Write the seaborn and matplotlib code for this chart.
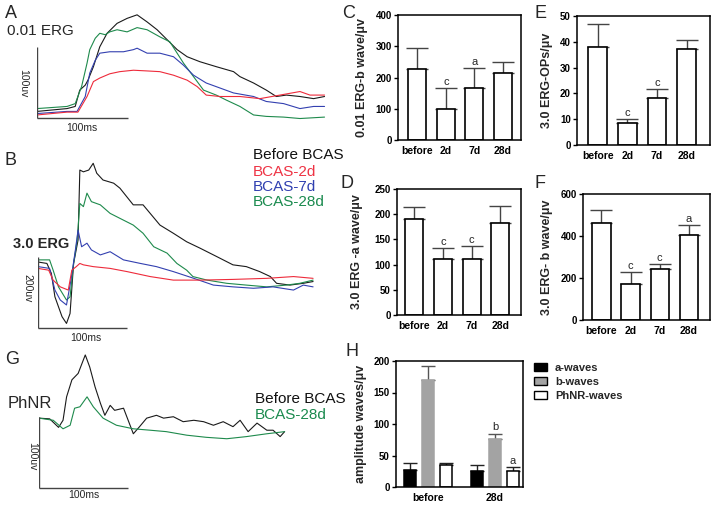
import numpy as np
import pandas as pd
import matplotlib
matplotlib.use("Agg")
import matplotlib.pyplot as plt
import seaborn as sns
from matplotlib.patches import Patch

# ---------------- data ----------------
# Panel A (0.01 ERG) traces: time (ms), amplitude (uV)
A_t_before = [0, 33, 42, 47, 53, 56, 62, 69, 77, 88, 99, 110, 121, 132, 143, 154, 165, 179, 197, 216, 223, 238, 252, 263, 274, 289, 304, 316]
A_v_before = [-2, 2, 5, 28, 35, 42, 61, 89, 108, 122, 129, 134, 124, 113, 99, 85, 75, 68, 61, 54, 47, 38, 28, 19, 21, 19, 16, 19]
A_t_28d = [0, 33, 42, 49, 55, 58, 64, 69, 75, 80, 88, 99, 110, 121, 135, 146, 154, 161, 172, 183, 197, 208, 223, 238, 252, 271, 289, 316]
A_v_28d = [2, 5, 9, 33, 66, 85, 101, 108, 106, 110, 113, 110, 116, 113, 103, 96, 80, 66, 47, 28, 21, 14, 5, -7, -9, -10, -12, -10]
A_t_7d = [0, 33, 44, 53, 58, 64, 69, 80, 95, 106, 110, 121, 135, 150, 161, 172, 186, 201, 216, 238, 252, 271, 289, 304, 316]
A_v_7d = [-5, -2, -2, 19, 52, 70, 80, 82, 82, 85, 87, 80, 80, 75, 63, 49, 38, 31, 24, 19, 12, 9, 2, 5, 5]
A_t_2d = [0, 33, 45, 55, 62, 69, 80, 91, 106, 121, 135, 150, 165, 176, 186, 201, 223, 245, 267, 289, 300, 316]
A_v_2d = [-7, -3, -3, 19, 40, 45, 51, 54, 56, 55, 54, 49, 42, 33, 21, 19, 19, 16, 21, 26, 21, 21]

# Panel B (3.0 ERG) traces
B_t_before = [0, 10, 15, 19, 27, 32, 36, 40, 45, 47, 51, 57, 62, 66, 73, 85, 92, 107, 118, 126, 137, 152, 167, 182, 201, 219, 234, 249, 261, 268, 283, 298, 309]
B_v_before = [0, -4, -32, -98, -154, -173, -145, -4, 62, 259, 254, 259, 278, 250, 231, 222, 208, 161, 161, 137, 104, 81, 57, 39, 15, -8, -13, -27, -41, -60, -65, -60, -55]
B_t_28d = [0, 13, 17, 23, 32, 36, 40, 44, 47, 51, 55, 60, 70, 81, 92, 107, 118, 130, 145, 156, 167, 174, 190, 212, 234, 257, 279, 294, 309]
B_v_28d = [6, 6, -23, -70, -107, -98, -4, 62, 165, 156, 194, 170, 161, 137, 123, 104, 81, 43, 25, -4, -23, -41, -51, -60, -65, -70, -65, -60, -51]
B_t_7d = [0, 13, 19, 25, 32, 37, 42, 45, 49, 55, 60, 70, 81, 96, 115, 133, 152, 175, 197, 219, 242, 264, 287, 298, 309]
B_v_7d = [-13, -18, -79, -107, -121, -51, 34, 90, 43, 53, 34, 20, 29, 6, -4, -13, -27, -46, -65, -70, -74, -70, -79, -65, -70]
B_t_2d = [0, 12, 17, 25, 34, 38, 43, 47, 51, 62, 81, 100, 126, 152, 182, 219, 257, 287, 309]
B_v_2d = [-18, -23, -51, -70, -79, -23, -13, -4, -8, -13, -18, -27, -41, -51, -51, -49, -46, -41, -46]

# Panel G (PhNR) traces
G_t_before = [0, 12, 22, 27, 31, 37, 44, 52, 57, 63, 69, 74, 80, 85, 95, 106, 113, 121, 132, 140, 151, 162, 174, 185, 196, 207, 218, 226, 235, 245, 256, 263, 271, 276]
G_v_before = [0, -1, -13, -3, 30, 54, 63, 89, 72, 44, 21, 4, 18, 11, 14, -22, -12, 0, 4, 0, 2, -5, -3, -5, -10, -5, -12, -3, -19, -7, -17, -17, -26, -19]
G_t_28d = [0, 16, 27, 35, 40, 46, 54, 61, 72, 87, 106, 125, 143, 166, 188, 211, 233, 256, 276]
G_v_28d = [0, -3, -15, -10, 14, 16, 30, 16, 0, -10, -15, -17, -19, -24, -27, -29, -26, -22, -19]

# Bar panels
groups = ["before", "2d", "7d", "28d"]
C_mean = [227, 99, 167, 213]
C_sd = [68, 68, 62, 38]
C_sig = ["", "c", "a", ""]
D_mean = [190, 111, 111, 182]
D_sd = [24, 22, 25, 35]
D_sig = ["", "c", "c", ""]
E_mean = [37.9, 8.4, 18.3, 37.2]
E_sd = [9.0, 1.7, 3.3, 3.5]
E_sig = ["", "c", "c", ""]
F_mean = [463, 170, 241, 405]
F_sd = [61, 57, 24, 47]
F_sig = ["", "c", "c", "a"]

H_groups = ["before", "28d"]
H_types = ["a-waves", "b-waves", "PhNR-waves"]
H_a = [27.6, 24.9]
H_a_sd = [10.6, 10.6]
H_b = [169.8, 75.9]
H_b_sd = [22.8, 9.0]
H_phnr = [34.5, 25.5]
H_phnr_sd = [3.7, 6.3]
H_sig = {"a-waves": ["", ""], "b-waves": ["", "b"], "PhNR-waves": ["", "a"]}

# ---------------- style ----------------
sns.set_theme(style="ticks")
plt.rcParams["font.family"] = ["Liberation Sans", "DejaVu Sans"]
plt.rcParams["axes.linewidth"] = 1.1

W, H = 712, 505
fig = plt.figure(figsize=(W / 100, H / 100), dpi=100)


def add_ax(l, t, r, b):
    return fig.add_axes([l / W, 1 - b / H, (r - l) / W, (b - t) / H])


def ftext(x, y, s, **kw):
    kw.setdefault("ha", "center")
    kw.setdefault("va", "center")
    fig.text(x / W, 1 - y / H, s, **kw)


COL = {"before": "#1a1a1a", "2d": "#ee2b3b", "7d": "#3340b0", "28d": "#1e8a4c"}
TXT = {"before": "#111111", "2d": "#ee3344", "7d": "#2f3fb0", "28d": "#1a8a4e"}


def trace_panel(rect, traces, xlim, ylim, bar_y, bar_uv):
    ax = add_ax(*rect)
    for t, v, key in traces:
        sns.lineplot(x=t, y=v, ax=ax, color=COL[key], lw=0.8, estimator=None, sort=False)
    ax.set_xlim(*xlim)
    ax.set_ylim(*ylim)
    ax.axis("off")
    ax.plot([0, 0], [bar_y, bar_y + bar_uv], color="#444444", lw=1.0, solid_capstyle="butt")
    ax.plot([0, 100], [bar_y, bar_y], color="#444444", lw=1.0, solid_capstyle="butt")
    return ax


trace_panel((37, 10, 330, 122),
            [(A_t_before, A_v_before, "before"), (A_t_28d, A_v_28d, "28d"),
             (A_t_7d, A_v_7d, "7d"), (A_t_2d, A_v_2d, "2d")],
            (0, 322), (-16.9, 140.8), -11.3, 100)
trace_panel((38, 130, 330, 330),
            [(B_t_before, B_v_before, "before"), (B_t_28d, B_v_28d, "28d"),
             (B_t_7d, B_v_7d, "7d"), (B_t_2d, B_v_2d, "2d")],
            (0, 328), (-191.5, 371.8), -186, 200)
trace_panel((39, 345, 330, 492),
            [(G_t_before, G_v_before, "before"), (G_t_28d, G_v_28d, "28d")],
            (0, 327), (-104, 103), -98.6, 100)

# trace panel texts
ftext(11, 14, "A", fontsize=13)
ftext(7, 31, "0.01 ERG", fontsize=11, ha="left")
ftext(23, 83, "100uv", fontsize=7.5, rotation=270)
ftext(82, 128, "100ms", fontsize=7.5)
ftext(11, 160, "B", fontsize=13)
ftext(13, 244, "3.0 ERG", fontsize=10.5, ha="left", fontweight="bold")
ftext(27, 288, "200uv", fontsize=7.5, rotation=270)
ftext(86, 338, "100ms", fontsize=7.5)
for y, s, k in [(155, "Before BCAS", "before"), (171.5, "BCAS-2d", "2d"),
                (187, "BCAS-7d", "7d"), (202.5, "BCAS-28d", "28d")]:
    ftext(253, y, s, fontsize=11, ha="left", color=TXT[k])
ftext(12, 360, "G", fontsize=13)
ftext(8, 403, "PhNR", fontsize=12, ha="left")
ftext(32, 456, "100uv", fontsize=7.5, rotation=270)
ftext(84, 495, "100ms", fontsize=7.5)
ftext(255, 399, "Before BCAS", fontsize=11, ha="left", color=TXT["before"])
ftext(255, 415, "BCAS-28d", fontsize=11, ha="left", color=TXT["28d"])


def style_bar_axes(ax, ymax, ystep, xlim, ylabel, label_x_px, rect):
    ax.set_xlim(*xlim)
    ax.set_ylim(0, ymax)
    ax.set_yticks(np.arange(0, ymax + 0.1, ystep))
    ax.set_xlabel("")
    ax.set_ylabel(ylabel, fontsize=9, fontweight="bold")
    ax.yaxis.set_label_coords((label_x_px - rect[0]) / (rect[2] - rect[0]), 0.5)
    ax.tick_params(axis="y", length=3, width=1, labelsize=7, pad=1.5, colors="black")
    ax.tick_params(axis="x", length=0, labelsize=7.5, pad=4, colors="black")
    for lab in ax.get_yticklabels() + ax.get_xticklabels():
        lab.set_fontweight("bold")
    for sp in ax.spines.values():
        sp.set_visible(True)
        sp.set_color("black")
        sp.set_linewidth(1.1)


def bar_panel(rect, mean, sd, sig, ymax, ystep, xlim, ylabel, label_x_px):
    ax = add_ax(*rect)
    df = pd.DataFrame({"group": groups, "value": mean})
    sns.barplot(data=df, x="group", y="value", ax=ax, color="white", saturation=1,
                edgecolor="black", linewidth=1.2, width=0.63, errorbar=None)
    for p, s, lab in zip(ax.patches, sd, sig):
        xc = p.get_x() + p.get_width() / 2
        h = p.get_height()
        ax.errorbar([xc], [h], yerr=[[0], [s]], fmt="none", ecolor="#444444",
                    elinewidth=1.0, capsize=8, capthick=1.0, zorder=0.5)
        if lab:
            ax.text(xc, h + s + ymax * 0.01, lab, ha="center", va="bottom", fontsize=8)
    style_bar_axes(ax, ymax, ystep, xlim, ylabel, label_x_px, rect)
    return ax


bar_panel((398, 15, 521, 140), C_mean, C_sd, C_sig, 400, 100, (-0.68, 3.64),
          "0.01 ERG-b wave/\u03bcv", 368)
bar_panel((577, 16, 710, 145), E_mean, E_sd, E_sig, 50, 10, (-0.70, 3.79),
          "3.0 ERG-OPs/\u03bcv", 553)
bar_panel((397, 189, 521, 315), D_mean, D_sd, D_sig, 250, 50, (-0.6, 3.72),
          "3.0 ERG -a wave/\u03bcv", 363)
bar_panel((583, 194, 710, 320), F_mean, F_sd, F_sig, 600, 200, (-0.63, 3.72),
          "3.0 ERG- b wave/\u03bcv", 553)

ftext(349, 14, "C", fontsize=13)
ftext(541, 14, "E", fontsize=13)
ftext(347, 184, "D", fontsize=13)
ftext(540, 184, "F", fontsize=13)
ftext(352, 351, "H", fontsize=13)

# Panel H grouped bars
rectH = (396, 361, 523, 487)
axH = add_ax(*rectH)
dfH = pd.DataFrame({
    "group": H_groups * 3,
    "type": [H_types[0]] * 2 + [H_types[1]] * 2 + [H_types[2]] * 2,
    "value": H_a + H_b + H_phnr,
})
fillH = {"a-waves": "#000000", "b-waves": "#a3a3a3", "PhNR-waves": "#ffffff"}
edgeH = {"a-waves": "#000000", "b-waves": "#a3a3a3", "PhNR-waves": "#000000"}
errcH = {"a-waves": "#222222", "b-waves": "#555555", "PhNR-waves": "#222222"}
sdH = {"a-waves": H_a_sd, "b-waves": H_b_sd, "PhNR-waves": H_phnr_sd}
sns.barplot(data=dfH, x="group", y="value", hue="type", hue_order=H_types, ax=axH,
            palette=fillH, saturation=1, width=0.806, gap=0.37, errorbar=None,
            legend=False, linewidth=1.1)
for cont, typ in zip(axH.containers, H_types):
    for p, s, lab in zip(cont.patches, sdH[typ], H_sig[typ]):
        p.set_edgecolor(edgeH[typ])
        p.set_linewidth(1.1)
        xc = p.get_x() + p.get_width() / 2
        h = p.get_height()
        axH.errorbar([xc], [h], yerr=[[0], [s]], fmt="none", ecolor=errcH[typ],
                     elinewidth=1.0, capsize=5, capthick=1.0, zorder=0.5)
        if lab:
            axH.text(xc, h + s + 2, lab, ha="center", va="bottom", fontsize=8)
style_bar_axes(axH, 200, 50, (-0.478, 1.418), "amplitude waves/\u03bcv", 367, rectH)

handles = [Patch(facecolor=fillH[t], edgecolor="black", linewidth=1.0, label=t) for t in H_types]
leg = fig.legend(handles=handles, loc="upper left",
                 bbox_to_anchor=(534 / W, 1 - 363 / H), frameon=False,
                 prop={"size": 8, "weight": "bold"}, handlelength=1.2, handleheight=0.65,
                 labelspacing=0.35, handletextpad=0.7, borderpad=0, borderaxespad=0)

fig.savefig("out.png", dpi=100)
